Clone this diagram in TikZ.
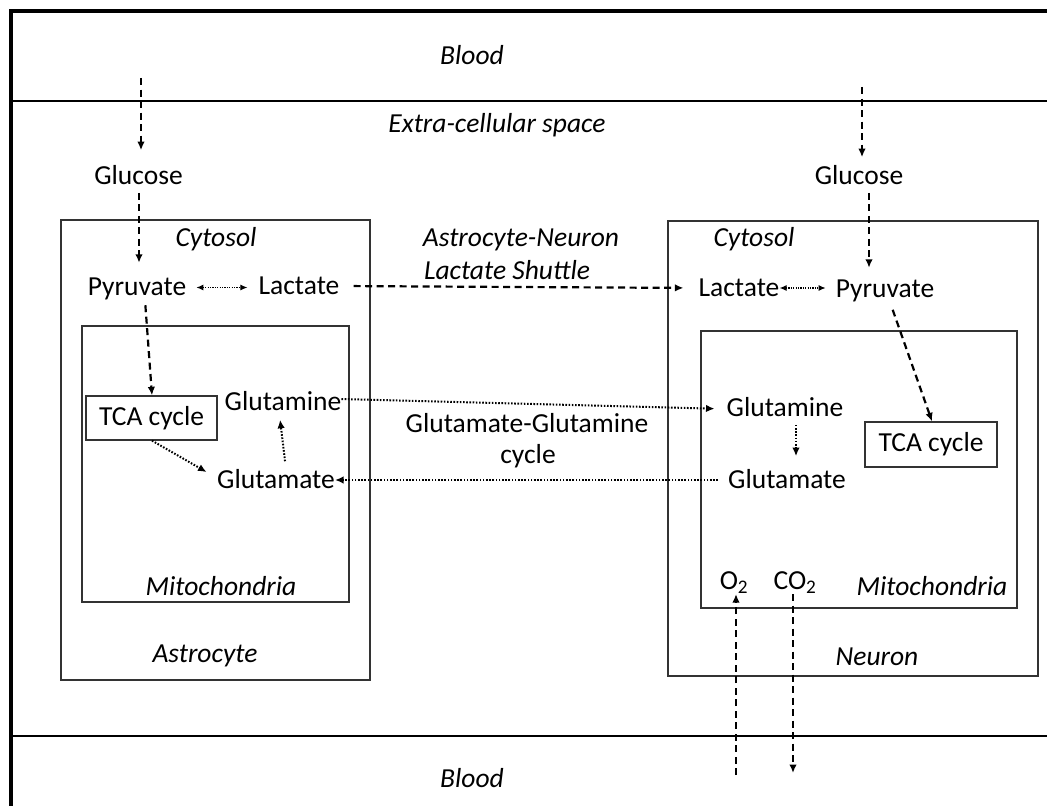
\documentclass[tikz,border=0pt]{standalone}
\usepackage{fontspec}
\setmainfont{Carlito}
\usetikzlibrary{arrows.meta}
\tikzset{
  txt/.style={inner sep=0pt, font=\fontsize{27.5bp}{33bp}\selectfont},
  itxt/.style={txt, font=\fontsize{27.5bp}{33bp}\selectfont\itshape},
  boxed/.style={draw=black!80, line width=1.3bp, inner sep=0pt},
  dsh/.style={line width=2.2bp, dash pattern=on 7bp off 4.5bp, -{Latex[length=8.5bp,width=7.5bp]}},
  dot/.style={line width=2bp, dash pattern=on 1.6bp off 1.6bp, -{Latex[length=8.5bp,width=7.5bp]}},
  bi/.style={line width=1.1bp, dash pattern=on 1.2bp off 1.2bp, {Latex[length=7bp,width=6bp]}-{Latex[length=7bp,width=6bp]}},
}
\begin{document}
\begin{tikzpicture}[x=1bp,y=-1bp]
\useasboundingbox (0,0) rectangle (1047,806);
\fill[white] (0,0) rectangle (1047,806);
% frame
\draw[line width=3.8bp] (11,806) -- (11,11) -- (1047,11);
\draw[line width=2bp] (11,101) -- (1047,101);
\draw[line width=2bp] (11,735.5) -- (1047,735.5);
% regions
\node[itxt] (blood1) at (472,55) {Blood};
\node[itxt] (ecs) at (497,125) {Extra-cellular space};
\node[itxt] (blood2) at (472,778) {Blood};
% cell boxes
\node[boxed, minimum width=309bp, minimum height=460bp] (astro) at (215.5,450) {};
\node[boxed, minimum width=267bp, minimum height=276bp] (mito1) at (215.5,464) {};
\node[boxed, minimum width=370bp, minimum height=455bp] (neuron) at (853,448.5) {};
\node[boxed, minimum width=316bp, minimum height=277bp] (mito2) at (859,469.5) {};
\node[boxed, minimum width=131bp, minimum height=44bp] (tca1) at (151.5,418) {};
\node[boxed, minimum width=132bp, minimum height=45bp] (tca2) at (931,444.5) {};
\node[txt] at (tca1.center) {TCA cycle};
\node[txt] at (tca2.center) {TCA cycle};
% labels
\node[itxt] (cyt1) at (216,239) {Cytosol};
\node[itxt] (cyt2) at (754,239) {Cytosol};
\node[itxt] (mlab1) at (221,586) {Mitochondria};
\node[itxt] (mlab2) at (932,586) {Mitochondria};
\node[itxt] (alab) at (205,656) {Astrocyte};
\node[itxt] (nlab) at (877,657) {Neuron};
\node[itxt] (anls1) at (521,240) {Astrocyte-Neuron};
\node[itxt] (anls2) at (507,270) {Lactate Shuttle};
\node[txt] (ggc1) at (527,423) {Glutamate-Glutamine};
\node[txt] (ggc2) at (528,456) {cycle};
% metabolites
\node[txt] (glc1) at (138.5,175) {Glucose};
\node[txt] (glc2) at (859,175) {Glucose};
\node[txt] (pyr1) at (137,289) {Pyruvate};
\node[txt] (lac1) at (299,286) {Lactate};
\node[txt] (lac2) at (739,288) {Lactate};
\node[txt] (pyr2) at (885,291) {Pyruvate};
\node[txt] (gln1) at (283,401) {Glutamine};
\node[txt] (glt1) at (276,479) {Glutamate};
\node[txt] (gln2) at (785,407) {Glutamine};
\node[txt] (glt2) at (787,479) {Glutamate};
\node[txt] (o2) at (734,583) {O\textsubscript{2}};
\node[txt] (co2) at (795,583) {CO\textsubscript{2}};
% free ends
\coordinate (bl1) at (141,78);
\coordinate (bl2) at (862,87);
\coordinate (bo2) at (736,775);
\coordinate (bco2) at (793,773);
% connectors left
\draw[dsh, shorten >=15bp] (bl1) -- (bl1 |- glc1.north);
\draw[dsh, shorten <=8bp, shorten >=15bp] ([xshift=0.5bp]glc1.south) -- ([xshift=0.5bp]glc1.south |- pyr1.north);
\draw[dsh, shorten <=5bp] ([xshift=8bp]pyr1.south) -- ([xshift=0.5bp]tca1.north);
\draw[bi, shorten <=10bp, shorten >=11bp] ([yshift=-1.5bp]lac1.west -| pyr1.east) -- ([yshift=-1.5bp]lac1.west);
\draw[dsh, shorten <=14bp, shorten >=15bp] (lac1.east) -- (lac2.west);
\draw[dot, shorten >=12bp] ([yshift=2bp]gln1.east) -- ([yshift=-2bp]gln2.west);
\draw[dot, shorten <=10bp] ([yshift=-1bp]glt2.west) -- ([yshift=-1bp]glt1.east);
\draw[dot, shorten >=12bp] ([xshift=0.5bp]tca1.south) -- ([yshift=1bp]glt1.west);
\draw[dot, shorten <=8bp, shorten >=9bp] ([xshift=10bp]glt1.north) -- ([xshift=3bp]glt1.north |- gln1.south);
% connectors right
\draw[dsh, shorten >=8bp] (bl2) -- (bl2 |- glc2.north);
\draw[dsh, shorten <=8bp, shorten >=12bp] ([xshift=10bp]glc2.south) -- ([xshift=10bp]glc2.south |- pyr2.north);
\draw[bi, shorten >=10bp] (lac2.east) -- (lac2.east -| pyr2.west);
\draw[dsh, shorten <=8bp] ([xshift=5bp]pyr2.south) -- ([xshift=1bp]tca2.north);
\draw[dot, shorten <=8bp, shorten >=13bp] ([xshift=11bp]gln2.south) -- ([xshift=11bp]gln2.south |- glt2.north);
\draw[dsh] (bo2) -- (bo2 |- o2.south);
\draw[dsh] (bco2 |- co2.south) -- (bco2);
\end{tikzpicture}
\end{document}
